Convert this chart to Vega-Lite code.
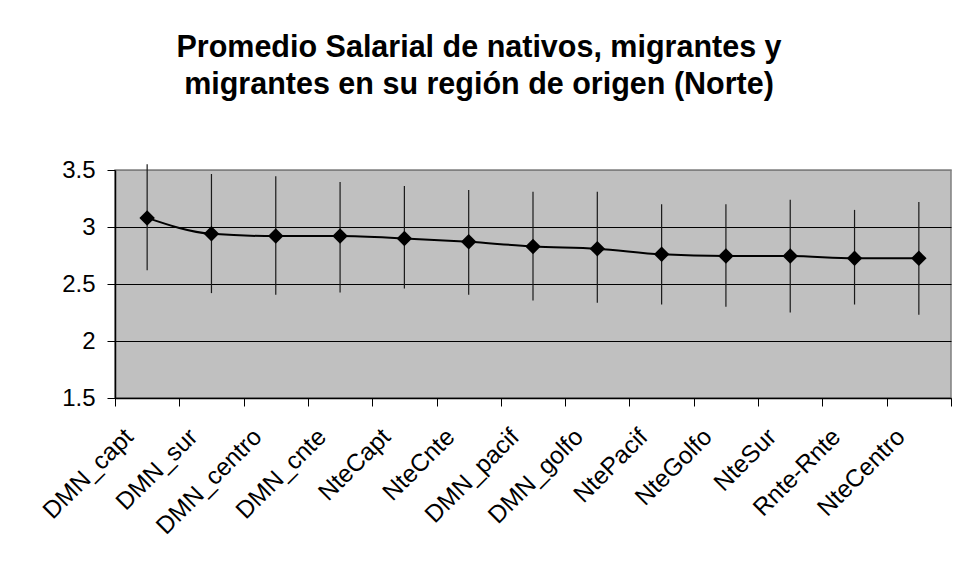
{
  "$schema": "https://vega.github.io/schema/vega-lite/v6.json",
  "autosize": {"type": "none"},
  "width": 836,
  "height": 228,
  "padding": {"left": 115, "top": 170, "right": 13, "bottom": 178},
  "background": "white",
  "title": {
    "text": ["Promedio Salarial de nativos, migrantes y", "migrantes en su región de origen (Norte)"],
    "font": "Liberation Sans",
    "fontSize": 30.5,
    "fontWeight": "bold",
    "color": "black",
    "anchor": "middle",
    "frame": "group",
    "dx": -54,
    "lineHeight": 37,
    "baseline": "alphabetic",
    "offset": 34
  },
  "data": {
    "values": [
      {"grupo": "DMN_capt", "media": 3.08, "sup": 3.55, "inf": 2.62},
      {"grupo": "DMN_sur", "media": 2.94, "sup": 3.465, "inf": 2.42},
      {"grupo": "DMN_centro", "media": 2.92, "sup": 3.445, "inf": 2.405},
      {"grupo": "DMN_cnte", "media": 2.92, "sup": 3.395, "inf": 2.425},
      {"grupo": "NteCapt", "media": 2.9, "sup": 3.36, "inf": 2.46},
      {"grupo": "NteCnte", "media": 2.87, "sup": 3.325, "inf": 2.405},
      {"grupo": "DMN_pacif", "media": 2.83, "sup": 3.31, "inf": 2.355},
      {"grupo": "DMN_golfo", "media": 2.81, "sup": 3.31, "inf": 2.335},
      {"grupo": "NtePacif", "media": 2.76, "sup": 3.2, "inf": 2.32},
      {"grupo": "NteGolfo", "media": 2.745, "sup": 3.2, "inf": 2.3},
      {"grupo": "NteSur", "media": 2.745, "sup": 3.24, "inf": 2.25},
      {"grupo": "Rnte-Rnte", "media": 2.725, "sup": 3.15, "inf": 2.32},
      {"grupo": "NteCentro", "media": 2.725, "sup": 3.22, "inf": 2.23}
    ]
  },
  "encoding": {
    "x": {
      "field": "grupo",
      "type": "nominal",
      "sort": null,
      "scale": {"paddingInner": 0, "paddingOuter": 0},
      "axis": {
        "title": null,
        "labelAngle": -45,
        "labelAlign": "right",
        "labelBaseline": "middle",
        "labelFont": "Liberation Sans",
        "labelFontSize": 24.5,
        "labelColor": "black",
        "labelPadding": 27,
        "labelOffset": -18,
        "labelOverlap": false,
        "tickBand": "extent",
        "tickSize": 8,
        "tickColor": "black",
        "domainColor": "black",
        "domainWidth": 1.5,
        "grid": false
      }
    }
  },
  "layer": [
    {
      "mark": {"type": "rule", "color": "#1a1a1a", "strokeWidth": 1.2},
      "encoding": {
        "y": {"field": "inf", "type": "quantitative"},
        "y2": {"field": "sup"}
      }
    },
    {
      "mark": {"type": "line", "color": "black", "strokeWidth": 2, "interpolate": "monotone"},
      "encoding": {
        "y": {
          "field": "media",
          "type": "quantitative",
          "scale": {"domain": [1.5, 3.5], "nice": false, "zero": false},
          "axis": {
            "title": null,
            "values": [1.5, 2, 2.5, 3, 3.5],
            "format": "~g",
            "labelFont": "Liberation Sans",
            "labelFontSize": 24,
            "labelColor": "black",
            "labelPadding": 12,
            "labelOverlap": false,
            "tickSize": 8,
            "tickColor": "black",
            "domainColor": "black",
            "domainWidth": 1.5,
            "grid": true,
            "gridColor": {"condition": {"test": "datum.value == 3.5", "value": "#808080"}, "value": "black"},
            "gridOpacity": 1,
            "gridWidth": 1
          }
        }
      }
    },
    {
      "mark": {"type": "point", "shape": "diamond", "filled": true, "color": "black", "size": 240, "opacity": 1},
      "encoding": {
        "y": {"field": "media", "type": "quantitative"}
      }
    }
  ],
  "config": {
    "view": {"fill": "#c0c0c0", "stroke": "#808080", "strokeWidth": 1.5},
    "font": "Liberation Sans"
  }
}
